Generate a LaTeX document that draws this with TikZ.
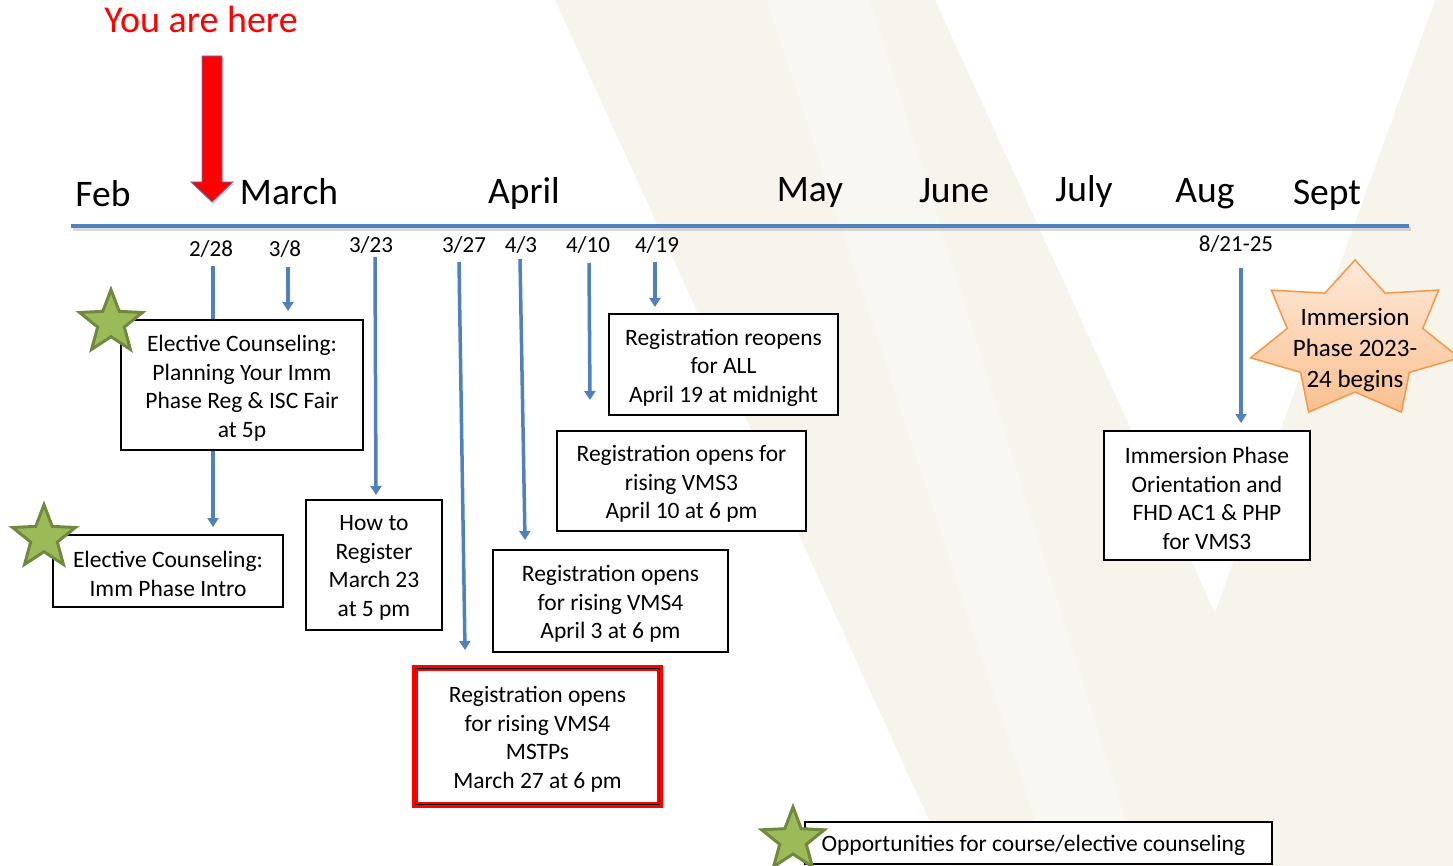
\documentclass[tikz,border=0pt]{standalone}
\usepackage{fontspec}
\setmainfont{Carlito}
\usetikzlibrary{arrows.meta,shadows,calc}
\definecolor{tlblue}{RGB}{79,129,189}
\definecolor{beige}{RGB}{247,244,236}
\definecolor{beigelt}{RGB}{249,247,241}
\definecolor{stargreen}{RGB}{155,187,89}
\definecolor{stargreendk}{RGB}{113,137,63}
\definecolor{burstline}{RGB}{247,150,70}
\definecolor{bursttop}{RGB}{253,233,217}
\definecolor{burstbot}{RGB}{250,192,143}
\newcommand\gstarat[2]{%
  \filldraw[gstar] plot[samples at={0,...,9}]
    ({#1+(23.5+9.5*cos(180*\x))*cos(90+36*\x)},{#2-(23.5+9.5*cos(180*\x))*sin(90+36*\x)}) -- cycle;}
\begin{document}
\begin{tikzpicture}[x=1pt,y=-1pt,
  box/.style={draw=black, line width=1.3pt, fill=white, inner sep=0pt},
  boxtext/.style={inner sep=0pt, align=center, font=\fontsize{23.5}{28.5}\selectfont},
  month/.style={anchor=base, font=\fontsize{37.5}{42}\selectfont, inner sep=0pt},
  datelbl/.style={anchor=base, font=\fontsize{23}{26}\selectfont, inner sep=0pt},
  tickarrow/.style={draw=tlblue, line width=3.5pt, -{Triangle[width=11pt,length=9pt]}},
  gstar/.style={fill=stargreen, draw=stargreendk, line width=3pt, line join=miter},
]
\useasboundingbox (0,0) rectangle (1453,866);
% background
\fill[white] (0,0) rectangle (1453,866);
\fill[beige] (555,0) -- (935,0) -- (1215,613) -- (1435,0) -- (1453,0) -- (1453,866) -- (950,866) -- cycle;
\fill[beigelt] (767,0) -- (870,0) -- (1140,866) -- (1050,866) -- cycle;

% timeline
\coordinate (tlA) at (71,226);
\coordinate (tlB) at (1409,226);
\draw[line width=4pt, black!30, opacity=.5] ([shift={(2,3)}]tlA) -- ([shift={(2,3)}]tlB);
\draw[line width=4.5pt, tlblue] (tlA) -- (tlB);

% months
\node[month] (feb) at (103,207) {Feb};
\node[month] (mar) at (289,205) {March};
\node[month] (apr) at (524,204) {April};
\node[month] (may) at (810,202) {May};
\node[month] (jun) at (954,203) {June};
\node[month] (jul) at (1084,202) {July};
\node[month] (aug) at (1205,203) {Aug};
\node[month] (sep) at (1327,205) {Sept};

% you are here
\node[anchor=base, inner sep=0pt, text=red, font=\fontsize{38}{42}\selectfont] (here) at (201,33) {You are here};

% date labels
\node[datelbl] (d1) at (211,257) {2/28};
\node[datelbl] (d2) at (285,257) {3/8};
\node[datelbl] (d3) at (371,253) {3/23};
\node[datelbl] (d4) at (464,253) {3/27};
\node[datelbl] (d5) at (521,253) {4/3};
\node[datelbl] (d6) at (588,253) {4/10};
\node[datelbl] (d7) at (657,253) {4/19};
\node[datelbl] (d8) at (1236,252) {8/21-25};

% arrow end points
\coordinate (s1) at (213,266); \coordinate (e1) at (213,527);
\coordinate (s2) at (288,267); \coordinate (e2) at (288,311);
\coordinate (s3) at (375,257); \coordinate (e3) at (376,495);
\coordinate (s4) at (459,262); \coordinate (e4) at (465,650);
\coordinate (s5) at (520,259); \coordinate (e5) at (525,540);
\coordinate (s6) at (589,263); \coordinate (e6) at (590,400);
\coordinate (s7) at (655,262); \coordinate (e7) at (655,307);
\coordinate (s8) at (1241,268); \coordinate (e8) at (1241,423);
\foreach \i in {1,...,8} \draw[tickarrow] (s\i) -- (e\i);

% boxes
\node[box, minimum width=242pt, minimum height=130pt] (b1) at (242,385) {};
\node[boxtext] (t1) at ([shift={(0,3)}]b1.center)
  {Elective Counseling:\\Planning Your Imm\\Phase Reg \& ISC Fair\\at 5p};
\node[box, minimum width=230pt, minimum height=72pt] (b2) at (168,571) {};
\node[boxtext] (t2) at ([shift={(0,3)}]b2.center)
  {Elective Counseling:\\Imm Phase Intro};
\node[box, minimum width=136pt, minimum height=130pt] (b3) at (374,565) {};
\node[boxtext] (t3) at ([shift={(0,3)}]b3.center)
  {How to\\Register\\March 23\\at 5 pm};
\node[box, draw=red, line width=6pt, minimum width=245pt, minimum height=137pt,
  drop shadow={opacity=0.35, shadow xshift=3pt, shadow yshift=-3pt}] (b4) at (537.5,736.5) {};
\draw[black, line width=1.2pt] ([shift={(3.6,3.6)}]b4.north west) rectangle ([shift={(-3.6,-3.6)}]b4.south east);
\node[boxtext] (t4) at ([shift={(0,3)}]b4.center)
  {Registration opens\\for rising VMS4\\MSTPs\\March 27 at 6 pm};
\node[box, minimum width=235pt, minimum height=102pt] (b5) at (610.5,601) {};
\node[boxtext] (t5) at ([shift={(0,3)}]b5.center)
  {Registration opens\\for rising VMS4\\April 3 at 6 pm};
\node[box, minimum width=249pt, minimum height=100pt] (b6) at (681.5,481) {};
\node[boxtext] (t6) at ([shift={(0,3)}]b6.center)
  {Registration opens for\\rising VMS3\\April 10 at 6 pm};
\node[box, minimum width=229pt, minimum height=101pt] (b7) at (723.5,364.5) {};
\node[boxtext] (t7) at ([shift={(0,3)}]b7.center)
  {Registration reopens\\for ALL\\April 19 at midnight};
\node[box, minimum width=206pt, minimum height=129pt] (b8) at (1207,495.5) {};
\node[boxtext] (t8) at ([shift={(0,3)}]b8.center)
  {Immersion Phase\\Orientation and\\FHD AC1 \& PHP\\for VMS3};
\node[box, minimum width=467pt, minimum height=42pt] (b9) at (1038.5,843) {};
\node[boxtext, anchor=west] (t9) at ([shift={(17,2.5)}]b9.west)
  {Opportunities for course/elective counseling};

% stars
\gstarat{111}{322.7}
\gstarat{44}{537.7}
\gstarat{793}{840}

% burst
\shadedraw[top color=bursttop, bottom color=burstbot, draw=burstline, line width=1.5pt, line join=miter]
  plot[samples at={0,...,13}]
  ({1355+(88.25+18.75*cos(180*\x))*cos(90+25.7143*\x)},{340-(66+14*cos(180*\x))*sin(90+25.7143*\x)}) -- cycle;
\node[inner sep=0pt, align=center, font=\fontsize{25}{31}\selectfont] (burst) at (1355,350.5)
  {Immersion\\Phase 2023-\\24 begins};

% red arrow
\filldraw[fill=red, draw=tlblue, line width=0.8pt, line join=miter,
  drop shadow={opacity=0.3, shadow xshift=1.5pt, shadow yshift=-2pt}]
  (202,56) -- (222,56) -- (222,182) -- (233,182) -- (212,202) -- (191,182) -- (202,182) -- cycle;
\end{tikzpicture}
\end{document}
